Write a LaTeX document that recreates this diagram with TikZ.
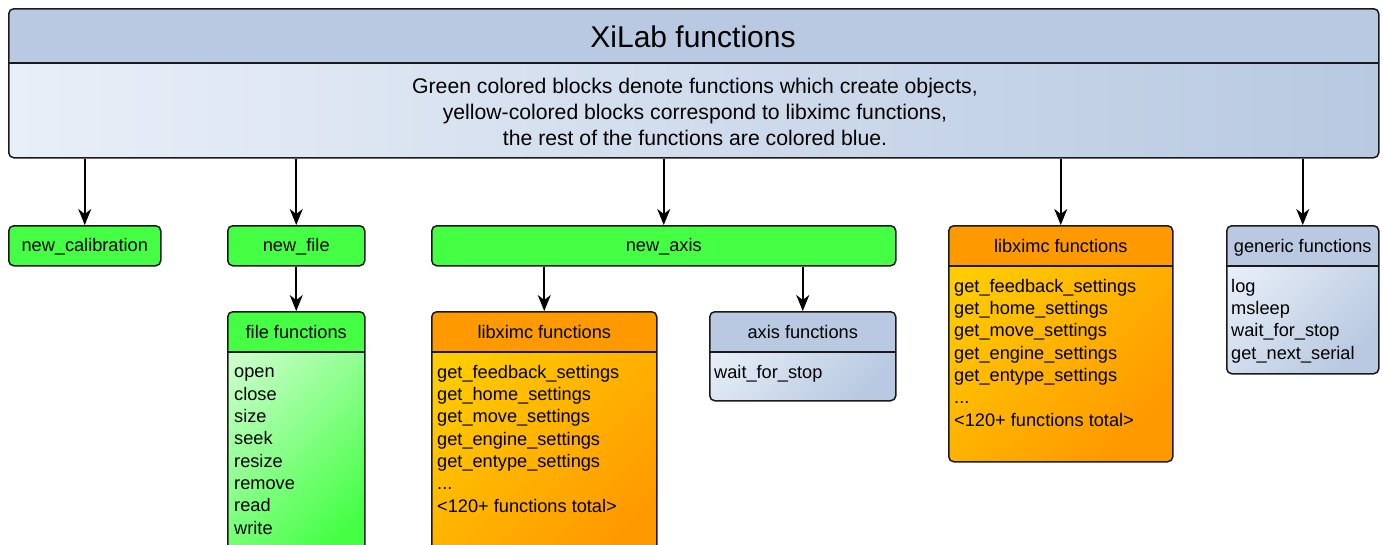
\documentclass[tikz,border=0pt]{standalone}
\usepackage{fontspec}
\setmainfont{Liberation Sans}
\usetikzlibrary{arrows.meta}

\definecolor{hdblue}{HTML}{B8C9E1}
\definecolor{ltblue}{HTML}{E9EFF8}
\definecolor{objgreen}{HTML}{44FF44}
\definecolor{ltgreen}{HTML}{C8FFC8}
\definecolor{hdorange}{HTML}{FF9900}
\definecolor{ltorange}{HTML}{FFCC00}
\definecolor{edge}{HTML}{1A1A1A}

\begin{document}
\begin{tikzpicture}[x=1pt, y=-1pt,
    box/.style={draw=edge, line width=1.5pt, rounded corners=5pt, anchor=north west, inner sep=0pt,
        font=\fontsize{18.2}{22.3}\selectfont, text height=13pt, text depth=2pt},
    band/.style 2 args={path picture={
        \fill[#1] (path picture bounding box.north west) rectangle ([yshift=-#2]path picture bounding box.north east);
        \draw[edge, line width=1.5pt] ([yshift=-#2]path picture bounding box.north west) -- ([yshift=-#2]path picture bounding box.north east);}},
    bluefill/.style={top color=ltblue, bottom color=hdblue, shading angle=45},
    greenfill/.style={top color=ltgreen, bottom color=objgreen, shading angle=45},
    orangefill/.style={top color=ltorange, bottom color=hdorange, shading angle=45},
    hd/.style={font=\fontsize{18.2}{22.3}\selectfont, inner sep=0pt, text height=13pt, text depth=2pt},
    % base of a list node is the base line of its last line
    list/.style={font=\fontsize{18.2}{22.3}\selectfont, align=left, anchor=base west, inner sep=0pt},
    arr/.style={-{Stealth[length=16pt, width=13pt, inset=5pt]}, line width=1.6pt}]
    \clip (0,0) rectangle (1383,544);

    % top block
    \node[box, left color=ltblue, right color=hdblue, band={hdblue}{54pt}, minimum width=1370pt, minimum height=149pt] (top) at (8,8) {};
    \node[font=\fontsize{30}{36}\selectfont, inner sep=0pt] (toptitle) at (693,37) {XiLab functions};
    \node[font=\fontsize{21.2}{26}\selectfont, align=center, inner sep=0pt] (desc) at (695,112)
        {Green colored blocks denote functions which create objects,\\
         yellow-colored blocks correspond to libximc functions,\\
         the rest of the functions are colored blue.};

    % first row
    \node[box, fill=objgreen, minimum width=152pt, minimum height=40pt] (cal) at (8,225) {new\_calibration};
    \node[box, fill=objgreen, minimum width=137pt, minimum height=40pt] (file) at (227,225) {new\_file};
    \node[box, fill=objgreen, minimum width=464pt, minimum height=40pt] (axis) at (431,225) {new\_axis};
    \node[box, orangefill, band={hdorange}{40pt}, minimum width=224pt, minimum height=236pt] (libR) at (948,225) {};
    \node[box, bluefill, band={hdblue}{40pt}, minimum width=152pt, minimum height=148pt] (gen) at (1226,225) {};

    % second row
    \node[box, greenfill, band={objgreen}{40pt}, minimum width=137pt, minimum height=260pt] (files) at (227,311) {};
    \node[box, orangefill, band={hdorange}{40pt}, minimum width=225pt, minimum height=260pt] (libL) at (431,311) {};
    \node[box, bluefill, band={hdblue}{40pt}, minimum width=186pt, minimum height=89pt] (axisf) at (709,311) {};

    % titles
    \node[hd] (libRtitle) at ([yshift=-22pt]libR.north) {libximc functions};
    \node[hd] (gentitle) at ([yshift=-22pt]gen.north) {generic functions};
    \node[hd] (filestitle) at ([yshift=-22pt]files.north) {file functions};
    \node[hd] (libLtitle) at ([yshift=-22pt]libL.north) {libximc functions};
    \node[hd] (axisftitle) at ([yshift=-22pt]axisf.north) {axis functions};

    % lists
    \node[list] (fileslist) at (234,534) {open\\close\\size\\seek\\resize\\remove\\read\\write};
    \node[list] (libLlist) at (437,512) {get\_feedback\_settings\\get\_home\_settings\\get\_move\_settings\\get\_engine\_settings\\get\_entype\_settings\\...\\<120+ functions total>};
    \node[list] (axisflist) at (714,378) {wait\_for\_stop};
    \node[list] (libRlist) at (954,426) {get\_feedback\_settings\\get\_home\_settings\\get\_move\_settings\\get\_engine\_settings\\get\_entype\_settings\\...\\<120+ functions total>};
    \node[list] (genlist) at (1231,359) {log\\msleep\\wait\_for\_stop\\get\_next\_serial};

    % arrows
    \draw[arr] (cal.north |- top.south) -- (cal.north);
    \draw[arr] (file.north |- top.south) -- (file.north);
    \draw[arr] (axis.north |- top.south) -- (axis.north);
    \draw[arr] (libR.north |- top.south) -- (libR.north);
    \draw[arr] (gen.north |- top.south) -- (gen.north);
    \draw[arr] (file) -- (files);
    \draw[arr] (libL.north |- axis.south) -- (libL.north);
    \draw[arr] (axisf.north |- axis.south) -- (axisf.north);
\end{tikzpicture}
\end{document}
